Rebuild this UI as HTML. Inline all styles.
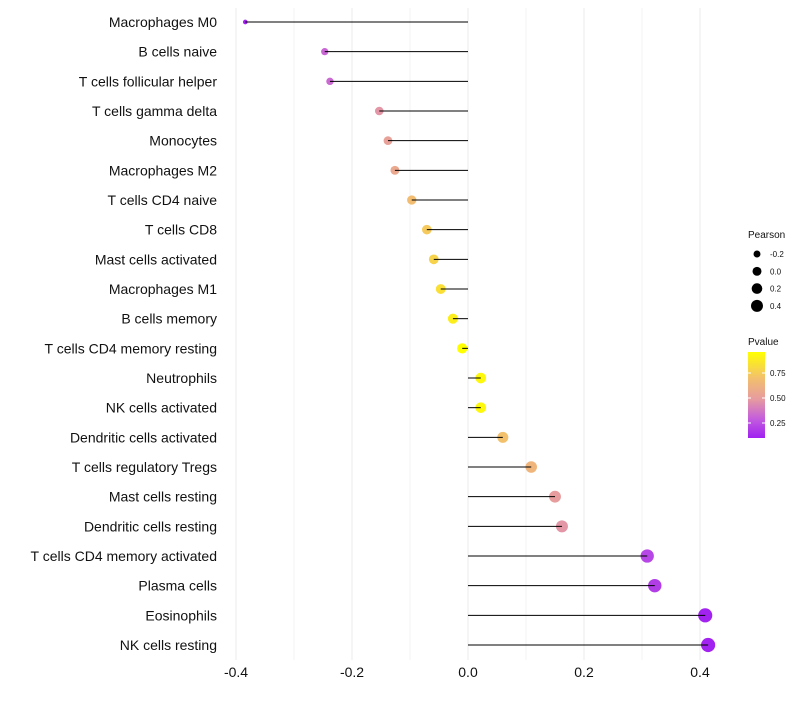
<!DOCTYPE html>
<html><head><meta charset="utf-8"><style>
body{margin:0;background:#fff;font-family:"Liberation Sans",sans-serif}
</style></head><body>
<svg id="c" width="800" height="700" style="font-family:'Liberation Sans',sans-serif"></svg>
<script>
const categories=["Macrophages M0","B cells naive","T cells follicular helper","T cells gamma delta","Monocytes","Macrophages M2","T cells CD4 naive","T cells CD8","Mast cells activated","Macrophages M1","B cells memory","T cells CD4 memory resting","Neutrophils","NK cells activated","Dendritic cells activated","T cells regulatory  Tregs ","Mast cells resting","Dendritic cells resting","T cells CD4 memory activated","Plasma cells","Eosinophils","NK cells resting"];
const pearson=[-0.384,-0.247,-0.238,-0.153,-0.138,-0.126,-0.097,-0.071,-0.059,-0.047,-0.026,-0.010,0.022,0.022,0.060,0.109,0.150,0.162,0.309,0.322,0.409,0.414];
const pvalue=[0.11,0.32,0.33,0.47,0.52,0.56,0.68,0.74,0.78,0.83,0.89,0.96,0.93,0.93,0.70,0.64,0.50,0.47,0.22,0.19,0.11,0.11];
const xTicks=[-0.4,-0.2,0.0,0.2,0.4];
const xTickLabels=["-0.4","-0.2","0.0","0.2","0.4"];
const sizeLegend=[-0.2,0.0,0.2,0.4];
const pTicks=[0.25,0.5,0.75];
const pTickLabels=["0.25","0.50","0.75"];
const NS="http://www.w3.org/2000/svg",svg=document.getElementById('c');
const x=v=>468+v*580, y=i=>22+i*29.667, r=v=>Math.sqrt(Math.max(2,27+56*v));
const rl=v=>Math.sqrt(Math.max(1.5,20+40*v));
const pmin=0.10,pmax=0.96;
const stops=[[0,[160,32,240]],[0.22,[195,92,222]],[0.45,[230,155,160]],[0.7,[243,192,108]],[1,[255,255,0]]];
function col(p){let t=(p-pmin)/(pmax-pmin);t=Math.max(0,Math.min(1,t));
for(let k=1;k<stops.length;k++){if(t<=stops[k][0]){const[a0,a]=stops[k-1],[b0,b]=stops[k];const u=(t-a0)/(b0-a0);
return `rgb(${a.map((c,j)=>Math.round(c+(b[j]-c)*u)).join(',')})`;}}return 'rgb(255,255,0)';}
function el(t,at,txt){const e=document.createElementNS(NS,t);for(const k in at)e.setAttribute(k,at[k]);if(txt!=null)e.textContent=txt;svg.appendChild(e);return e;}
for(let k=-4;k<=4;k++){const v=k/10;const g=el('line',{x1:x(v),x2:x(v),y1:8,y2:660,stroke:'#ebebeb','stroke-width':k%2==0?1:0.6});

}
xTicks.forEach((v,i)=>{const t=el('text',{x:x(v),y:677,'text-anchor':'middle','font-size':14,fill:'#111'},xTickLabels[i]);

});
categories.forEach((c,i)=>{
const t=el('text',{x:217,y:y(i)+5,'text-anchor':'end','font-size':14,fill:'#111'},c);


const d=el('circle',{cx:x(pearson[i]),cy:y(i),r:r(pearson[i]),fill:col(pvalue[i])});


const l=el('line',{x1:x(0),x2:x(pearson[i]),y1:y(i),y2:y(i),stroke:'#000','stroke-width':1});


});
const lt=el('text',{x:748,y:238,'font-size':10,fill:'#111'},'Pearson');


sizeLegend.forEach((v,i)=>{const cy=254+i*17.3;
const d=el('circle',{cx:757,cy:cy,r:rl(v),fill:'#000'});


const t=el('text',{x:770,y:cy+3,'font-size':8,fill:'#111'},v.toFixed(1));

});
const pt=el('text',{x:748,y:345,'font-size':10,fill:'#111'},'Pvalue');


const defs=el('defs',{});const gr=document.createElementNS(NS,'linearGradient');gr.setAttribute('id','g');gr.setAttribute('x1','0');gr.setAttribute('x2','0');gr.setAttribute('y1','1');gr.setAttribute('y2','0');defs.appendChild(gr);
for(let k=0;k<=20;k++){const s=document.createElementNS(NS,'stop');s.setAttribute('offset',k/20);s.setAttribute('stop-color',col(pmin+(pmax-pmin)*k/20));gr.appendChild(s);}
const cb=el('rect',{x:748,y:352,width:17,height:86,fill:'url(#g)'});


const py=p=>438-(p-pmin)/(pmax-pmin)*86;
pTicks.forEach((p,i)=>{el('line',{x1:748,x2:751,y1:py(p),y2:py(p),stroke:'#fff'});el('line',{x1:762,x2:765,y1:py(p),y2:py(p),stroke:'#fff'});
const t=el('text',{x:770,y:py(p)+3,'font-size':8,fill:'#111'},pTickLabels[i]);

});
</script>
</body></html>
